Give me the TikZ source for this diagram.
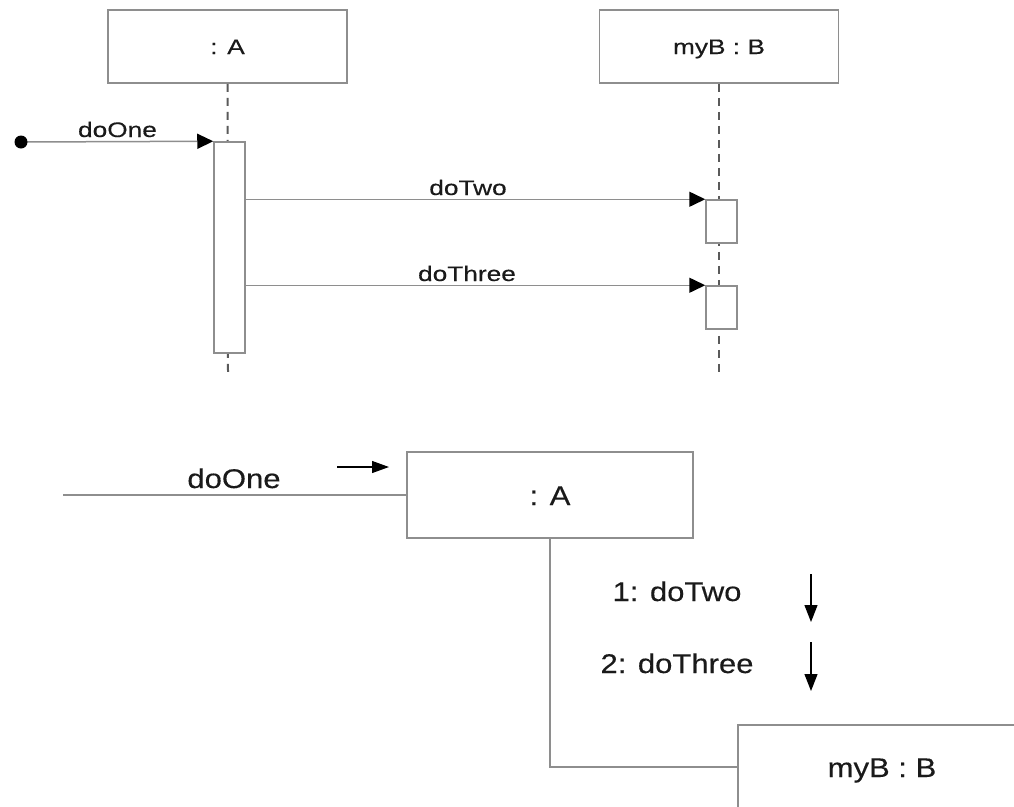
\documentclass[tikz,border=0pt]{standalone}
\usepackage{fontspec}
\newfontfamily\topfont[FakeStretch=1.25,FakeBold=0.4]{Liberation Sans}
\newfontfamily\botfont[FakeStretch=1.15,FakeBold=0.3]{Liberation Sans}
\usetikzlibrary{arrows.meta}
\definecolor{linegray}{HTML}{8E8E8E}
\definecolor{dashgray}{HTML}{5A5A5A}
\definecolor{txt}{HTML}{1A1A1A}
\tikzset{
  ln/.style={draw=linegray, line width=1.5pt},
  headbox/.style={ln, fill=white, inner sep=0pt, minimum width=239pt, minimum height=73pt,
    font=\topfont\fontsize{21}{24}\selectfont, text=txt, text height=15pt, text depth=0pt},
  actbox/.style={ln, fill=white, inner sep=0pt, minimum width=31pt},
  life/.style={draw=dashgray, line width=2pt, dash pattern=on 8pt off 6pt},
  msg/.style={ln, -{Triangle[length=16pt,width=15pt,color=black]}},
  toplbl/.style={inner sep=0pt, anchor=base, text=txt, font=\topfont\fontsize{21}{24}\selectfont},
  objbox/.style={ln, fill=white, inner sep=0pt,
    font=\botfont\fontsize{27}{32}\selectfont, text=txt, text height=20pt, text depth=0pt},
  botlbl/.style={inner sep=0pt, anchor=base, text=txt, font=\botfont\fontsize{27}{32}\selectfont},
  dirarrow/.style={draw=black, line width=1.2pt, -{Triangle[length=17pt,width=13pt]}},
}
\begin{document}
\begin{tikzpicture}[x=1pt,y=-1pt]
\useasboundingbox (0,0) rectangle (1014,806);
\clip (0,0) rectangle (1014,806);
% ---------- sequence diagram ----------
\node[headbox] (hA) at (227.5,46.5) {: A};
\node[headbox] (hB) at (719,46.5) {myB : B};
\coordinate (endA) at (228,372);
\coordinate (endB) at (719,372);
\draw[life] (hA.south) -- (endA);
\draw[life] (hB.south) -- (endB);
\node[actbox, minimum height=211pt] (aA) at (229.5,247.5) {};
\node[actbox, minimum height=43pt] (b1) at (721.5,221.5) {};
\node[actbox, minimum height=43pt] (b2) at (721.5,307.5) {};
\coordinate (dot) at (21,142);
\draw[msg] (dot) -- (aA.north west);
\fill[black] (dot) circle[radius=6.5pt];
\node[toplbl] (lOne) at (117.5,137) {doOne};
\draw[msg] (aA.east |- b1.north) -- (b1.north west);
\node[toplbl] (lTwo) at (468,195) {doTwo};
\draw[msg] (aA.east |- b2.north) -- (b2.north west);
\node[toplbl] (lThree) at (467,281) {doThree};
% ---------- communication diagram ----------
\node[objbox, minimum width=286pt, minimum height=86pt] (cA) at (550,495) {: A};
\node[objbox, minimum width=288pt, minimum height=84pt] (cB) at (882,767) {myB : B};
\coordinate (src) at (63,495);
\draw[ln] (src) -- (cA.west);
\node[botlbl] (cOne) at (234,488) {doOne};
\coordinate (s1) at (337,467);
\coordinate (s2) at (389,467);
\draw[draw=black, line width=1.2pt, -{Triangle[length=17pt,width=12pt]}] (s1) -- (s2);
\draw[ln] (cA.south) |- (cB.west);
\node[botlbl] (cTwo) at (677,601) {1: doTwo};
\node[botlbl] (cThree) at (677,673) {2: doThree};
\coordinate (d1) at (811,574);
\coordinate (d2) at (811,622);
\coordinate (d3) at (811,642);
\coordinate (d4) at (811,691);
\draw[dirarrow] (d1) -- (d2);
\draw[dirarrow] (d3) -- (d4);
\end{tikzpicture}
\end{document}
